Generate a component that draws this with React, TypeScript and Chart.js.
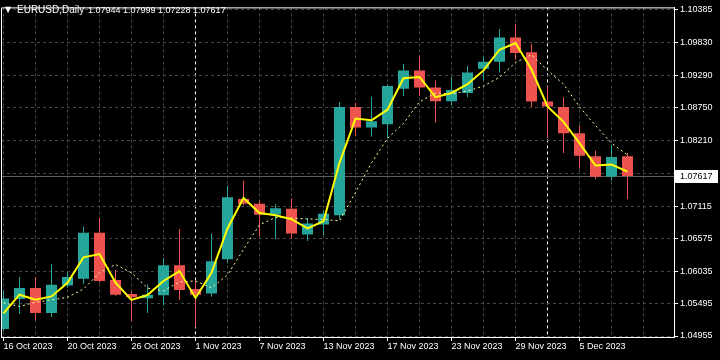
import React, { useEffect, useRef } from 'react';
import { Chart, registerables } from 'chart.js';

Chart.register(...registerables);

const symbolLabel = 'EURUSD,Daily';

const dates = [
  '16 Oct 2023', '17 Oct 2023', '18 Oct 2023', '19 Oct 2023', '20 Oct 2023',
  '23 Oct 2023', '24 Oct 2023', '25 Oct 2023', '26 Oct 2023', '27 Oct 2023',
  '30 Oct 2023', '31 Oct 2023', '1 Nov 2023', '2 Nov 2023', '3 Nov 2023',
  '6 Nov 2023', '7 Nov 2023', '8 Nov 2023', '9 Nov 2023', '10 Nov 2023',
  '13 Nov 2023', '14 Nov 2023', '15 Nov 2023', '16 Nov 2023', '17 Nov 2023',
  '20 Nov 2023', '21 Nov 2023', '22 Nov 2023', '23 Nov 2023', '24 Nov 2023',
  '27 Nov 2023', '28 Nov 2023', '29 Nov 2023', '30 Nov 2023', '1 Dec 2023',
  '4 Dec 2023', '5 Dec 2023', '6 Dec 2023', '7 Dec 2023', '8 Dec 2023',
];

const open = [
  1.05070, 1.05570, 1.05752, 1.05336, 1.05794, 1.05909, 1.06673, 1.05888, 1.05654, 1.05582,
  1.05631, 1.06133, 1.05736, 1.05664, 1.06231, 1.07235, 1.07153, 1.06973, 1.07071, 1.06645,
  1.06809, 1.06963, 1.08763, 1.08424, 1.08478, 1.09067, 1.09373, 1.09090, 1.08861, 1.08997,
  1.09401, 1.09516, 1.09918, 1.09673, 1.08855, 1.08763, 1.08326, 1.07945, 1.07606, 1.07944,
];
const high = [
  1.05708, 1.05937, 1.05935, 1.06154, 1.06019, 1.06771, 1.06924, 1.06051, 1.05696, 1.05817,
  1.06253, 1.06734, 1.05871, 1.06657, 1.07454, 1.07536, 1.07208, 1.07148, 1.07246, 1.06919,
  1.07045, 1.08845, 1.08833, 1.08936, 1.09144, 1.09483, 1.09624, 1.09210, 1.09264, 1.09444,
  1.09607, 1.10061, 1.10142, 1.09810, 1.09116, 1.08927, 1.08462, 1.08036, 1.08135, 1.07999,
];
const low = [
  1.05037, 1.05326, 1.05217, 1.05271, 1.05757, 1.05822, 1.05839, 1.05626, 1.05205, 1.05336,
  1.05462, 1.05560, 1.05102, 1.05610, 1.06166, 1.07131, 1.06608, 1.06570, 1.06580, 1.06537,
  1.06636, 1.06907, 1.08282, 1.08272, 1.08244, 1.08948, 1.08948, 1.08501, 1.08789, 1.08927,
  1.09210, 1.09336, 1.09553, 1.08763, 1.08244, 1.07999, 1.07737, 1.07562, 1.07536, 1.07228,
];
const close = [
  1.05577, 1.05752, 1.05336, 1.05806, 1.05937, 1.06673, 1.05871, 1.05642, 1.05598, 1.05642,
  1.06133, 1.05719, 1.05642, 1.06199, 1.07262, 1.07153, 1.06973, 1.07082, 1.06662, 1.06825,
  1.06989, 1.08763, 1.08424, 1.08527, 1.09112, 1.09373, 1.09090, 1.08861, 1.09046, 1.09336,
  1.09516, 1.09918, 1.09663, 1.08855, 1.08773, 1.08326, 1.07955, 1.07606, 1.07933, 1.07617,
];

// Fast moving average (solid yellow)
const fastMA = [
  1.05331, 1.05642, 1.05560, 1.05614, 1.05839, 1.06264, 1.06318, 1.05844, 1.05556, 1.05637,
  1.05871, 1.06035, 1.05588, 1.06007, 1.06744, 1.07251, 1.07001, 1.06963, 1.06897, 1.06744,
  1.06865, 1.07835, 1.08571, 1.08544, 1.08719, 1.09242, 1.09264, 1.08927, 1.08997, 1.09144,
  1.09373, 1.09717, 1.09827, 1.09390, 1.08773, 1.08517, 1.08162, 1.07791, 1.07807, 1.07688,
];
// Slow moving average (dotted pale yellow)
const slowMA = [
  1.05507, 1.05446, 1.05516, 1.05556, 1.05598, 1.05736, 1.06007, 1.06145, 1.06007, 1.05752,
  1.05708, 1.05855, 1.05871, 1.05757, 1.05970, 1.06395, 1.06804, 1.06927, 1.06919, 1.06902,
  1.06894, 1.06870, 1.07344, 1.07835, 1.08244, 1.08490, 1.08850, 1.08997, 1.08981, 1.09030,
  1.09112, 1.09259, 1.09504, 1.09635, 1.09373, 1.09144, 1.08768, 1.08457, 1.08162, 1.07966,
];

const priceTicks = [
  1.04955, 1.05495, 1.06035, 1.06575, 1.07115, 1.07655, 1.08210, 1.08750, 1.09290, 1.09830, 1.10385,
];

const Y_MIN = 1.049386;
const Y_MAX = 1.104206;
const X_MIN = -0.15625;
const X_MAX = 41.90625;

const BULL = '#26a69a';
const BEAR = '#ef5350';
const GRID = '#474747';
const FONT = '"Liberation Sans", Arial, sans-serif';

const lastPrice = close[close.length - 1];
const headerValues = [open[open.length - 1], high[high.length - 1], low[low.length - 1], lastPrice];

const monthStarts = dates
  .map((d, i) => (i > 0 && d.split(' ')[1] !== dates[i - 1].split(' ')[1] ? i : -1))
  .filter((i) => i >= 0);

const gridIndices: number[] = [];
for (let i = 0; i <= 40; i += 2) gridIndices.push(i);

const overlayPlugin = {
  id: 'mt4Overlay',
  beforeDatasetsDraw(chart: any) {
    const { ctx, chartArea: a, scales } = chart;
    const py = Math.round(scales.y.getPixelForValue(lastPrice)) + 0.5;
    ctx.save();
    ctx.strokeStyle = '#5e5e5e';
    ctx.lineWidth = 1;
    ctx.beginPath();
    ctx.moveTo(a.left, py);
    ctx.lineTo(a.right, py);
    ctx.stroke();
    ctx.restore();
  },
  afterDraw(chart: any) {
    const { ctx, chartArea: a, scales } = chart;
    ctx.save();
    ctx.strokeStyle = '#ffffff';
    ctx.lineWidth = 1;
    ctx.beginPath();
    ctx.moveTo(a.left + 0.5, a.bottom);
    ctx.lineTo(a.left + 0.5, a.top + 0.5);
    ctx.lineTo(a.right, a.top + 0.5);
    ctx.stroke();
    const py = scales.y.getPixelForValue(lastPrice);
    ctx.fillStyle = '#ffffff';
    ctx.fillRect(a.right + 1, Math.round(py) - 6, 43, 13);
    ctx.fillStyle = '#000000';
    ctx.font = `9px ${FONT}`;
    ctx.textBaseline = 'middle';
    ctx.textAlign = 'left';
    ctx.fillText(lastPrice.toFixed(5), a.right + 6, Math.round(py) + 0.5);
    ctx.restore();
  },
};

export default function App() {
  const ref = useRef<HTMLCanvasElement>(null);

  useEffect(() => {
    if (!ref.current) return;
    const colors = open.map((o, i) => (close[i] >= o ? BULL : BEAR));
    const chart = new Chart(ref.current, {
      type: 'bar',
      data: {
        datasets: [
          {
            type: 'line',
            label: 'Fast MA',
            data: fastMA.map((v, i) => ({ x: i, y: v })),
            borderColor: '#ffff00',
            borderWidth: 2,
            pointRadius: 0,
            tension: 0,
            order: 0,
          } as any,
          {
            type: 'line',
            label: 'Slow MA',
            data: slowMA.map((v, i) => ({ x: i, y: v })),
            borderColor: '#ffffa0',
            borderWidth: 1,
            borderDash: [2, 3],
            pointRadius: 0,
            tension: 0,
            order: 1,
          } as any,
          {
            type: 'bar',
            label: 'Body',
            data: open.map((o, i) => ({ x: i, y: [o, close[i]] })),
            backgroundColor: colors,
            borderWidth: 0,
            barThickness: 11,
            minBarLength: 1,
            grouped: false,
            inflateAmount: 0,
            order: 2,
          } as any,
          {
            type: 'bar',
            label: 'Wick',
            data: low.map((l, i) => ({ x: i, y: [l, high[i]] })),
            backgroundColor: colors,
            borderWidth: 0,
            barThickness: 1,
            grouped: false,
            inflateAmount: 0,
            order: 3,
          } as any,
        ],
      },
      options: {
        responsive: false,
        maintainAspectRatio: false,
        devicePixelRatio: 1,
        animation: false,
        events: [],
        layout: { padding: { left: 1, top: 2, right: 0, bottom: 0 } },
        plugins: { legend: { display: false }, tooltip: { enabled: false }, title: { display: false } },
        scales: {
          x: {
            type: 'linear',
            min: X_MIN,
            max: X_MAX,
            offset: false,
            bounds: 'data',
            afterBuildTicks: (s: any) => {
              s.ticks = gridIndices.map((v) => ({ value: v }));
            },
            afterFit: (s: any) => {
              s.height = 23;
            },
            ticks: {
              autoSkip: false,
              maxRotation: 0,
              minRotation: 0,
              align: 'start',
              padding: 0,
              color: '#ffffff',
              font: { family: FONT, size: 9 },
              callback: (v: any) => (v % 4 === 0 && v < dates.length ? dates[v] : ''),
            },
            grid: {
              offset: false,
              color: (c: any) => (c.tick && monthStarts.includes(c.tick.value) ? '#ffffff' : GRID),
              lineWidth: 1,
              drawTicks: true,
              tickLength: 4,
              tickWidth: 1,
              tickColor: (c: any) =>
                c.tick && c.tick.value % 4 === 0 && c.tick.value < dates.length ? '#ffffff' : 'rgba(0,0,0,0)',
            },
            border: { display: true, color: '#ffffff', width: 1, dash: [3, 3] },
          } as any,
          y: {
            type: 'linear',
            position: 'right',
            min: Y_MIN,
            max: Y_MAX,
            beginAtZero: false,
            bounds: 'data',
            afterBuildTicks: (s: any) => {
              s.ticks = priceTicks.map((v) => ({ value: v }));
            },
            afterFit: (s: any) => {
              s.width = 46;
            },
            ticks: {
              autoSkip: false,
              padding: 2,
              color: '#ffffff',
              font: { family: FONT, size: 9 },
              callback: (v: any) => Number(v).toFixed(5),
            },
            grid: {
              color: GRID,
              lineWidth: 1,
              drawTicks: true,
              tickLength: 4,
              tickWidth: 1,
              tickColor: '#ffffff',
            },
            border: { display: true, color: '#ffffff', width: 1, dash: [3, 3] },
          } as any,
        },
      },
      plugins: [overlayPlugin],
    } as any);
    return () => chart.destroy();
  }, []);

  return (
    <div
      style={{
        position: 'fixed',
        left: 0,
        top: 0,
        width: 720,
        height: 360,
        background: '#000000',
        overflow: 'hidden',
      }}
    >
      <canvas ref={ref} width={720} height={360} style={{ display: 'block', width: 720, height: 360 }} />
      <div
        style={{
          position: 'absolute',
          left: 0,
          top: 0,
          color: '#ffffff',
          fontFamily: FONT,
          lineHeight: '12px',
          pointerEvents: 'none',
        }}
      >
        <span style={{ position: 'absolute', left: 5, top: 4, fontSize: 8, fontFamily: '"DejaVu Sans", sans-serif' }}>
          ▼
        </span>
        <span style={{ position: 'absolute', left: 17, top: 4, fontSize: 10, whiteSpace: 'pre' }}>{symbolLabel}</span>
        <span style={{ position: 'absolute', left: 88, top: 4, fontSize: 9, whiteSpace: 'pre' }}>
          {headerValues.map((v) => v.toFixed(5)).join(' ')}
        </span>
      </div>
    </div>
  );
}
